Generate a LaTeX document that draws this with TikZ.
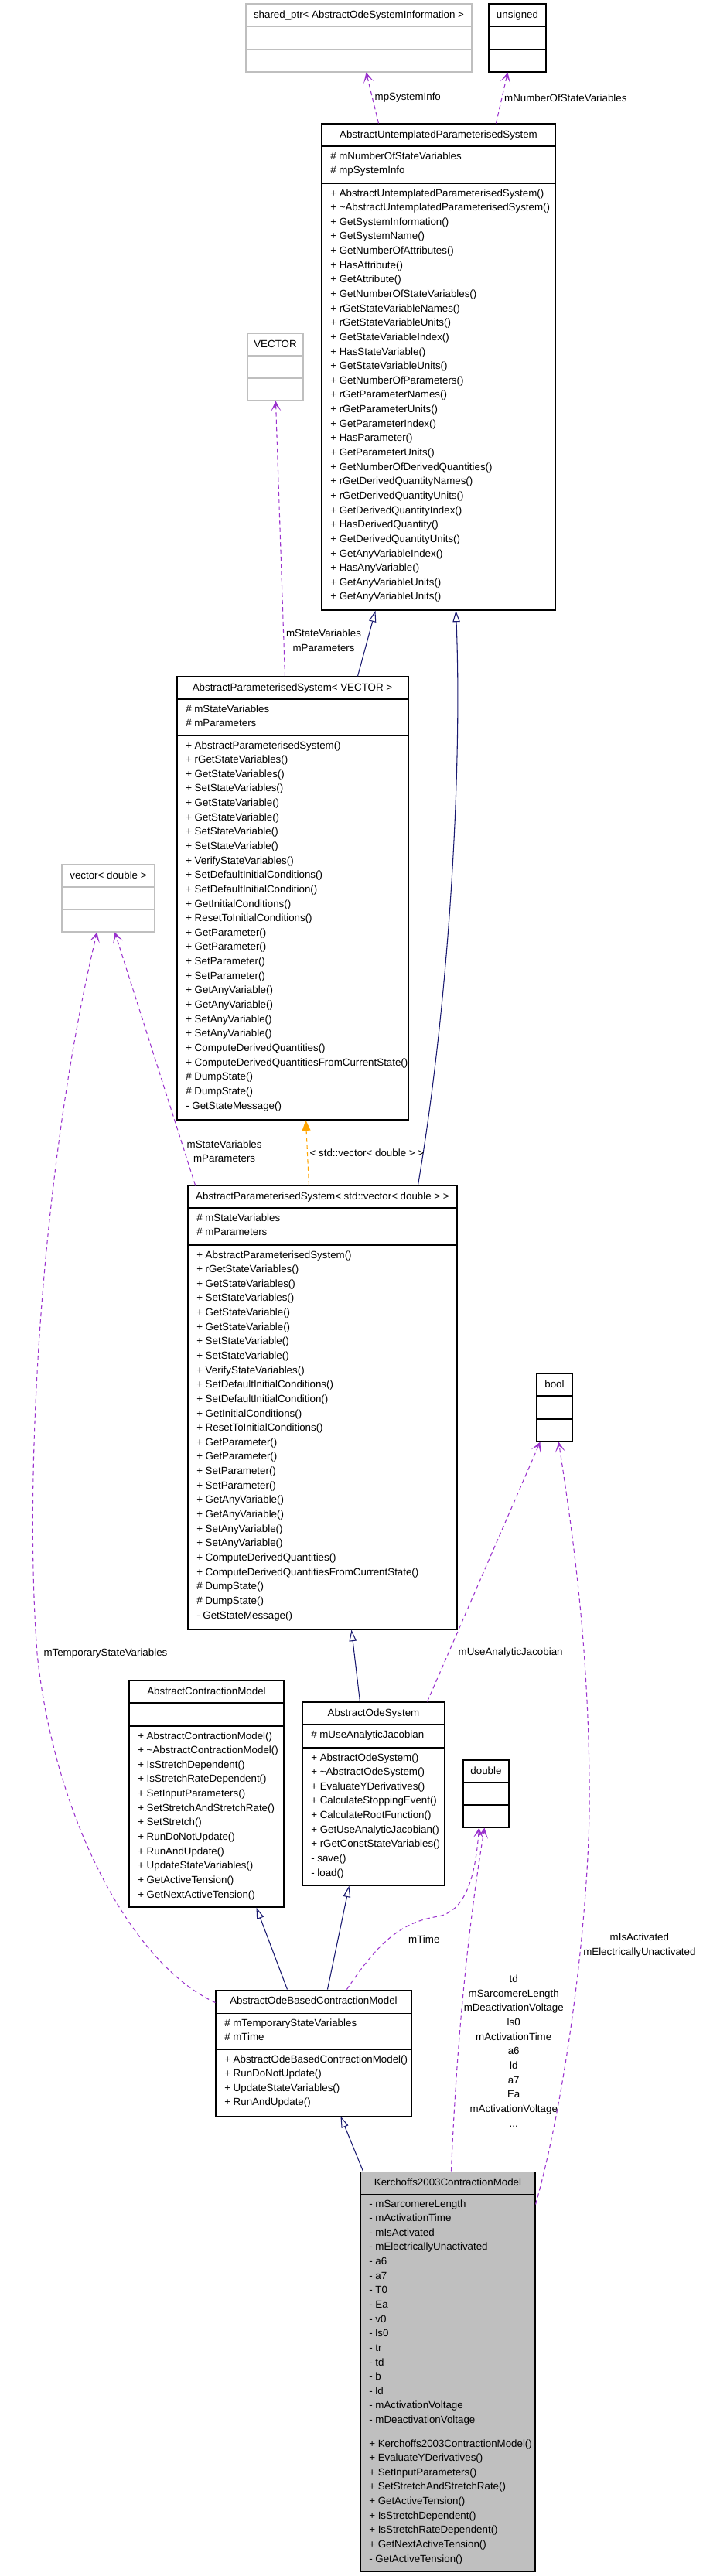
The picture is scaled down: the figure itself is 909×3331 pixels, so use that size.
\documentclass[tikz,border=0pt]{standalone}
\usepackage{fontspec}
\setmainfont{Liberation Sans}
\usetikzlibrary{arrows.meta,calc,fit}
\definecolor{usecol}{HTML}{9A32CD}
\definecolor{inhcol}{HTML}{191970}
\definecolor{tplcol}{HTML}{FFA500}
\definecolor{extgray}{HTML}{BFBFBF}
\newcommand\apsmethods{+ AbstractParameterisedSystem(), + rGetStateVariables(), + GetStateVariables(), + SetStateVariables(), + GetStateVariable(), + GetStateVariable(), + SetStateVariable(), + SetStateVariable(), + VerifyStateVariables(), + SetDefaultInitialConditions(), + SetDefaultInitialCondition(), + GetInitialConditions(), + ResetToInitialConditions(), + GetParameter(), + GetParameter(), + SetParameter(), + SetParameter(), + GetAnyVariable(), + GetAnyVariable(), + SetAnyVariable(), + SetAnyVariable(), + ComputeDerivedQuantities(), + ComputeDerivedQuantitiesFromCurrentState(), \# DumpState(), \# DumpState(), - GetStateMessage()}

\begin{document}
\begin{tikzpicture}[x=0.75pt,y=-0.75pt,
    font=\fontsize{10}{14}\selectfont,
    cls/.style={draw=black,line width=0.8pt,inner sep=0pt},
    extcls/.style={cls,draw=extgray},
    sep/.style={line width=0.8pt},
    title/.style={anchor=base,inner sep=0pt},
    member/.style={anchor=base west,inner sep=0pt},
    lbl/.style={inner sep=2pt,align=center},
    uses/.style={draw=usecol,line width=0.8pt,dash pattern=on 4pt off 3pt,
      -{Stealth[length=10pt,width=10pt,inset=6pt]}},
    isa/.style={draw=inhcol,line width=0.8pt,
      -{Triangle[open,length=11pt,width=7pt,fill=white]}},
    tmpl/.style={draw=tplcol,line width=0.8pt,dash pattern=on 4pt off 3pt,
      -{Triangle[length=10pt,width=8pt]}}]
\useasboundingbox (0,0) rectangle (909,3331);

%% shared_ptr< AbstractOdeSystemInformation >
\node[extcls,fit={(318,5) (610,93)}] (shptr) {};
\draw[sep,extgray] (318,34) -- (610,34);
\draw[sep,extgray] (318,64) -- (610,64);
\node[title] (shptr-t) at (464,23) {shared\_ptr< AbstractOdeSystemInformation >};

%% unsigned
\node[cls,fit={(632,5) (706,93)}] (unsgn) {};
\draw[sep] (632,34) -- (706,34);
\draw[sep] (632,64) -- (706,64);
\node[title] (unsgn-t) at (669,23) {unsigned};

%% AbstractUntemplatedParameterisedSystem
\node[cls,fit={(416,160) (718,789)}] (aups) {};
\draw[sep] (416,189) -- (718,189);
\draw[sep] (416,237) -- (718,237);
\node[title] (aups-t) at (567,178) {AbstractUntemplatedParameterisedSystem};
\foreach \m [count=\i from 0] in {\# mNumberOfStateVariables, \# mpSystemInfo}
    \node[member] (aups-a\i) at (427,206+\i*18.64) {\m};
\foreach \m [count=\i from 0] in {+ AbstractUntemplatedParameterisedSystem(),
    + \textasciitilde AbstractUntemplatedParameterisedSystem(), + GetSystemInformation(),
    + GetSystemName(), + GetNumberOfAttributes(), + HasAttribute(), + GetAttribute(),
    + GetNumberOfStateVariables(), + rGetStateVariableNames(), + rGetStateVariableUnits(),
    + GetStateVariableIndex(), + HasStateVariable(), + GetStateVariableUnits(),
    + GetNumberOfParameters(), + rGetParameterNames(), + rGetParameterUnits(),
    + GetParameterIndex(), + HasParameter(), + GetParameterUnits(),
    + GetNumberOfDerivedQuantities(), + rGetDerivedQuantityNames(),
    + rGetDerivedQuantityUnits(), + GetDerivedQuantityIndex(), + HasDerivedQuantity(),
    + GetDerivedQuantityUnits(), + GetAnyVariableIndex(), + HasAnyVariable(),
    + GetAnyVariableUnits(), + GetAnyVariableUnits()}
    \node[member] (aups-m\i) at (427,254+\i*18.64) {\m};

%% VECTOR
\node[extcls,fit={(320,431) (392,518)}] (vec) {};
\draw[sep,extgray] (320,460) -- (392,460);
\draw[sep,extgray] (320,489) -- (392,489);
\node[title] (vec-t) at (356,449) {VECTOR};

%% AbstractParameterisedSystem< VECTOR >
\node[cls,fit={(229,875) (528,1448)}] (apsv) {};
\draw[sep] (229,904) -- (528,904);
\draw[sep] (229,951) -- (528,951);
\node[title] (apsv-t) at (378,893) {AbstractParameterisedSystem< VECTOR >};
\foreach \m [count=\i from 0] in {\# mStateVariables, \# mParameters}
    \node[member] (apsv-a\i) at (240,921+\i*18.64) {\m};
\foreach \m [count=\i from 0] in \apsmethods
    \node[member] (apsv-m\i) at (240,968+\i*18.64) {\m};

%% vector< double >
\node[extcls,fit={(80,1118) (200,1205)}] (dvec) {};
\draw[sep,extgray] (80,1147) -- (200,1147);
\draw[sep,extgray] (80,1176) -- (200,1176);
\node[title] (dvec-t) at (140,1136) {vector< double >};

%% AbstractParameterisedSystem< std::vector< double > >
\node[cls,fit={(243,1533) (591,2107)}] (apsd) {};
\draw[sep] (243,1562) -- (591,1562);
\draw[sep] (243,1610) -- (591,1610);
\node[title] (apsd-t) at (417,1551) {AbstractParameterisedSystem< std::vector< double > >};
\foreach \m [count=\i from 0] in {\# mStateVariables, \# mParameters}
    \node[member] (apsd-a\i) at (254,1579+\i*18.64) {\m};
\foreach \m [count=\i from 0] in \apsmethods
    \node[member] (apsd-m\i) at (254,1627+\i*18.64) {\m};

%% bool
\node[cls,fit={(694,1776) (740,1864)}] (bool) {};
\draw[sep] (694,1805) -- (740,1805);
\draw[sep] (694,1835) -- (740,1835);
\node[title] (bool-t) at (717,1794) {bool};

%% AbstractContractionModel
\node[cls,fit={(167,2173) (367,2466)}] (acm) {};
\draw[sep] (167,2202) -- (367,2202);
\draw[sep] (167,2232) -- (367,2232);
\node[title] (acm-t) at (267,2191) {AbstractContractionModel};
\foreach \m [count=\i from 0] in {+ AbstractContractionModel(),
    + \textasciitilde AbstractContractionModel(), + IsStretchDependent(),
    + IsStretchRateDependent(), + SetInputParameters(), + SetStretchAndStretchRate(),
    + SetStretch(), + RunDoNotUpdate(), + RunAndUpdate(), + UpdateStateVariables(),
    + GetActiveTension(), + GetNextActiveTension()}
    \node[member] (acm-m\i) at (178,2249+\i*18.64) {\m};

%% AbstractOdeSystem
\node[cls,fit={(391,2201) (575,2438)}] (aos) {};
\draw[sep] (391,2230) -- (575,2230);
\draw[sep] (391,2260) -- (575,2260);
\node[title] (aos-t) at (483,2219) {AbstractOdeSystem};
\node[member] (aos-a0) at (402,2247) {\# mUseAnalyticJacobian};
\foreach \m [count=\i from 0] in {+ AbstractOdeSystem(), + \textasciitilde AbstractOdeSystem(),
    + EvaluateYDerivatives(), + CalculateStoppingEvent(), + CalculateRootFunction(),
    + GetUseAnalyticJacobian(), + rGetConstStateVariables(), - save(), - load()}
    \node[member] (aos-m\i) at (402,2277+\i*18.64) {\m};

%% double
\node[cls,fit={(599,2276) (658,2363)}] (dbl) {};
\draw[sep] (599,2305) -- (658,2305);
\draw[sep] (599,2334) -- (658,2334);
\node[title] (dbl-t) at (628.5,2294) {double};

%% AbstractOdeBasedContractionModel
\node[cls,fit={(279,2573) (532,2736)}] (aobcm) {};
\draw[sep] (279,2603) -- (532,2603);
\draw[sep] (279,2650) -- (532,2650);
\node[title] (aobcm-t) at (405.5,2591) {AbstractOdeBasedContractionModel};
\foreach \m [count=\i from 0] in {\# mTemporaryStateVariables, \# mTime}
    \node[member] (aobcm-a\i) at (290,2620+\i*18.64) {\m};
\foreach \m [count=\i from 0] in {+ AbstractOdeBasedContractionModel(), + RunDoNotUpdate(),
    + UpdateStateVariables(), + RunAndUpdate()}
    \node[member] (aobcm-m\i) at (290,2667+\i*18.64) {\m};

%% Kerchoffs2003ContractionModel
\node[cls,fill=extgray,fit={(466,2808) (692,3325)}] (kerch) {};
\draw[sep] (466,2837) -- (692,2837);
\draw[sep] (466,3147) -- (692,3147);
\node[title] (kerch-t) at (579,2826) {Kerchoffs2003ContractionModel};
\foreach \m [count=\i from 0] in {- mSarcomereLength, - mActivationTime, - mIsActivated,
    - mElectricallyUnactivated, - a6, - a7, - T0, - Ea, - v0, - ls0, - tr, - td, - b, - ld,
    - mActivationVoltage, - mDeactivationVoltage}
    \node[member] (kerch-a\i) at (477,2854+\i*18.64) {\m};
\foreach \m [count=\i from 0] in {+ Kerchoffs2003ContractionModel(), + EvaluateYDerivatives(),
    + SetInputParameters(), + SetStretchAndStretchRate(), + GetActiveTension(),
    + IsStretchDependent(), + IsStretchRateDependent(), + GetNextActiveTension(),
    - GetActiveTension()}
    \node[member] (kerch-m\i) at (477,3164+\i*18.64) {\m};

%% inheritance
\draw[isa] ($(apsv.north west)+(234,0)$) -- ($(aups.south west)+(70,0)$);
\draw[isa] ($(apsd.north west)+(298,0)$) .. controls (580,1300) and (598,1000) .. ($(aups.south west)+(174,0)$);
\draw[isa] ($(aos.north west)+(75,0)$) -- ($(apsd.south west)+(212,0)$);
\draw[isa] ($(aobcm.north west)+(93,0)$) -- ($(acm.south west)+(165,0)$);
\draw[isa] ($(aobcm.north west)+(145,0)$) -- ($(aos.south west)+(61,0)$);
\draw[isa] ($(kerch.north west)+(4,0)$) -- ($(aobcm.south west)+(162,0)$);

%% template instance
\draw[tmpl] ($(apsd.north west)+(157,0)$) -- node[lbl,anchor=west,pos=0.5] {< std::vector< double > >} ($(apsv.south west)+(167,0)$);

%% usage
\draw[uses] ($(aups.north west)+(74,0)$) -- node[lbl,anchor=west,pos=0.5] {mpSystemInfo} ($(shptr.south west)+(156,0)$);
\draw[uses] ($(aups.north west)+(226,0)$) -- node[lbl,anchor=west,pos=0.5] {mNumberOfStateVariables} ($(unsgn.south west)+(25,0)$);
\draw[uses] ($(apsv.north west)+(140,0)$) -- node[lbl,anchor=west,pos=0.13] {mStateVariables\\mParameters} ($(vec.south west)+(37,0)$);
\draw[uses] ($(apsd.north west)+(10,0)$) -- node[lbl,anchor=west,pos=0.134] {mStateVariables\\mParameters} ($(dvec.south west)+(69,0)$);
\draw[uses] ($(aobcm.north west)+(0,17)$) .. controls (170,2540) and (70,2350) .. (48,2138)
    node[lbl,anchor=west,xshift=4pt] {mTemporaryStateVariables}
    .. controls (30,1900) and (55,1500) .. ($(dvec.south west)+(46,0)$);
\draw[uses] ($(aos.north west)+(162,0)$) -- node[lbl,anchor=west,pos=0.19,xshift=7pt] {mUseAnalyticJacobian} ($(bool.south west)+(5,0)$);
\draw[uses] ($(aobcm.north west)+(170,0)$) .. controls (490,2510) and (520,2485) .. (567,2478)
    node[lbl,xshift=-14pt,yshift=-22.5pt] {mTime}
    .. controls (605,2470) and (615,2420) .. ($(dbl.south west)+(21,0)$);
\draw[uses] ($(kerch.north west)+(118,0)$) .. controls (592,2600) and (612,2450) ..
    node[lbl,anchor=west,pos=0.27,xshift=3pt] {td\\mSarcomereLength\\mDeactivationVoltage\\ls0\\mActivationTime\\a6\\ld\\a7\\Ea\\mActivationVoltage\\...}
    ($(dbl.south west)+(28,0)$);
\draw[uses] ($(kerch.north east)+(0,43)$) .. controls (735,2700) and (765,2450) ..
    node[lbl,anchor=west,pos=0.6] {mIsActivated\\mElectricallyUnactivated}
    (762,2300) .. controls (760,2100) and (735,1950) .. ($(bool.south west)+(29,0)$);
\end{tikzpicture}
\end{document}
